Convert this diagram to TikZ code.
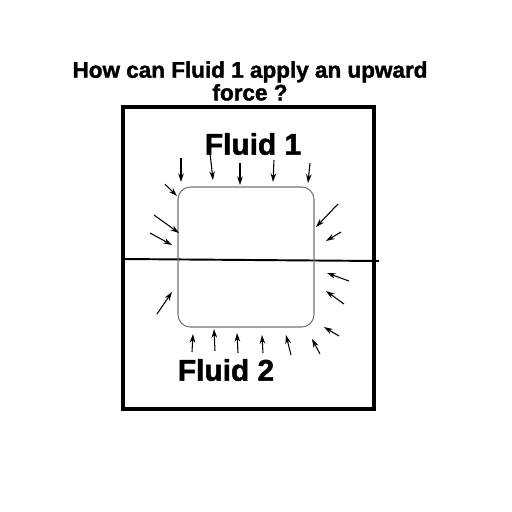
\documentclass[tikz,border=0pt]{standalone}
\usepackage{fontspec}
\setmainfont{Liberation Sans}
\newfontface\heavyfont{Liberation Sans Bold}[FakeBold=1.6]
\usetikzlibrary{arrows.meta}
\begin{document}
\begin{tikzpicture}[x=0.02cm,y=-0.02cm,
  force/.style={-{Stealth[length=5pt,width=3.2pt]},line width=0.6pt},
  lbl/.style={inner sep=0pt}]
\useasboundingbox (0,0) rectangle (512,512);
\node[lbl,align=center,font=\heavyfont\fontsize{12.8}{11.5}\selectfont] (title) at (250,81) {How can Fluid 1 apply an upward\\force ?};
\draw[line width=2.3pt] (123,107) rectangle (374,409);
\coordinate (hl) at (123,259);
\coordinate (hr) at (379,261);
\draw[line width=1.1pt] (hl) -- (hr);
\draw[black!55,line width=0.6pt,rounded corners=7] (178,187) rectangle (314,327);
\node[lbl,font=\heavyfont\fontsize{17}{17}\selectfont] (f1) at (253,144) {Fluid 1};
\node[lbl,font=\heavyfont\fontsize{17}{17}\selectfont] (f2) at (226,370) {Fluid 2};
\foreach \a/\b/\c/\d in {181/158/181/182, 210/153/213/180, 240/163/240/185, 274/160/273/182, 310/163/308/183,
  165/184/177/196, 154/215/179/233, 150/233/172/245, 338/204/316/227, 341/232/326/241,
  157/314/172/292, 349/281/327/273, 344/304/326/291, 339/336/324/327, 320/354/312/339,
  192/352/193/334, 215/351/214/329, 238/353/237/333, 263/353/262/335, 291/355/286/335}
  \draw[force] (\a,\b) -- (\c,\d);
\end{tikzpicture}
\end{document}
